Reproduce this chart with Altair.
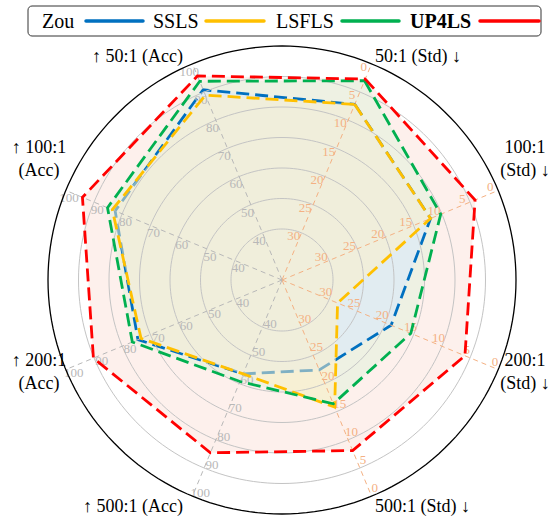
import pandas as pd
import altair as alt

# ---- data -------------------------------------------------------------
axis_names = ["50:1 (Std)", "100:1 (Std)", "200:1 (Std)", "500:1 (Std)",
              "500:1 (Acc)", "200:1 (Acc)", "100:1 (Acc)", "50:1 (Acc)"]
axis_kind = ["Std", "Std", "Std", "Std", "Acc", "Acc", "Acc", "Acc"]
axis_titles = ["50:1 (Std) ↓", "100:1\n(Std) ↓", "200:1\n(Std) ↓", "500:1 (Std) ↓",
               "↑ 500:1 (Acc)", "↑ 200:1\n(Acc)", "↑ 100:1\n(Acc)", "↑ 50:1 (Acc)"]

methods = ["Zou", "SSLS", "LSFLS", "UP4LS"]
zou = [7.2, 12.0, 19.0, 22.4, 56.6, 74.4, 82.5, 90.8]
ssls = [7.2, 12.0, 28.5, 15.8, 56.6, 73.3, 83.5, 88.9]
lsfls = [3.0, 10.2, 15.5, 16.4, 59.3, 76.4, 85.2, 93.8]
up4ls = [2.7, 4.1, 5.9, 8.1, 84.6, 90.2, 94.1, 95.7]
series = dict(zip(methods, [zou, ssls, lsfls, up4ls]))

acc_ticks = ["40", "50", "60", "70", "80", "90", "100"]
std_ticks = ["30", "25", "20", "15", "10", "5", "0"]

line_color = {"Zou": "#0070C0", "SSLS": "#FFC000", "LSFLS": "#00B050", "UP4LS": "#FF0000"}
# pale tints used for the shaded areas, with their opacity
fill_color = {"Zou": ("#e1ecf1", 1.0), "SSLS": ("#fff0c6", 0.5),
              "LSFLS": ("#eef1e3", 1.0), "UP4LS": ("#fdf0ec", 1.0)}

# ---- polar geometry ---------------------------------------------------
HOLE = 51 / 183          # radius of the innermost ring, in units of the ring span
START, STEP = 22.5, 45   # angle of the first spoke and spacing, degrees clockwise from top
N_RINGS = 6

theta = f"({START} + {STEP} * datum.idx) * PI / 180"

xs = alt.Scale(domain=[-282 / 183, 270 / 183], nice=False, zero=False)
ys = alt.Scale(domain=[-238 / 183, 280 / 183], nice=False, zero=False)
X = alt.X("x:Q", scale=xs, axis=None)
Y = alt.Y("y:Q", scale=ys, axis=None)

SERIF = "Liberation Serif"

# ---- rings --------------------------------------------------------------
ring_rows = [{"ring": j, "deg": d} for j in range(N_RINGS + 1) for d in range(0, 361, 2)]
rings = pd.DataFrame(ring_rows)


def ring_layer(sel, color, width):
    return (
        alt.Chart(rings)
        .transform_filter(sel)
        .transform_calculate(
            rho=f"{HOLE} + datum.ring / {N_RINGS}",
            t="datum.deg * PI / 180",
        )
        .transform_calculate(x="datum.rho * sin(datum.t)", y="datum.rho * cos(datum.t)")
        .mark_line(stroke=color, strokeWidth=width)
        .encode(x=X, y=Y, order="deg:Q", detail="ring:N")
    )


inner_rings = ring_layer(f"datum.ring < {N_RINGS}", "#c4c4c4", 1)
outer_ring = ring_layer(f"datum.ring == {N_RINGS}", "#000000", 1.3)

# ---- spokes -------------------------------------------------------------
spoke_df = pd.DataFrame({"idx": range(8), "kind": axis_kind})
spokes = (
    alt.Chart(spoke_df)
    .transform_calculate(t=theta, r1=f"{HOLE} + 1")
    .transform_calculate(
        x="0", y="0",
        x2="datum.r1 * sin(datum.t)", y2="datum.r1 * cos(datum.t)",
    )
    .mark_rule(strokeDash=[5, 4], strokeWidth=1)
    .encode(
        x=X, y=Y, x2="x2:Q", y2="y2:Q",
        color=alt.Color("kind:N", scale=alt.Scale(domain=["Acc", "Std"], range=["#b8b8b8", "#f4b183"]), legend=None),
    )
)

# ---- tick labels along each spoke ----------------------------------------
tick_rows = []
for i, k in enumerate(axis_kind):
    labels = acc_ticks if k == "Acc" else std_ticks
    for j, lab in enumerate(labels):
        tick_rows.append({"idx": i, "kind": k, "ring": j, "label": lab})
tick_df = pd.DataFrame(tick_rows)
RSHIFT, PERP = 6 / 183, 6 / 183
ticks = (
    alt.Chart(tick_df)
    .transform_calculate(t=theta, rho=f"{HOLE} + datum.ring / {N_RINGS} - {RSHIFT}")
    .transform_calculate(
        x=f"datum.rho * sin(datum.t) - {PERP} * cos(datum.t)",
        y=f"datum.rho * cos(datum.t) + {PERP} * sin(datum.t)",
    )
    .mark_text(font=SERIF, fontSize=13, align="center", baseline="middle")
    .encode(
        x=X, y=Y, text="label:N",
        color=alt.Color("kind:N", scale=alt.Scale(domain=["Acc", "Std"], range=["#8a8a8a", "#c0652a"]), legend=None),
    )
)


# ---- method polygons ----------------------------------------------------
def method_base(name):
    df = pd.DataFrame({"idx": range(8), "kind": axis_kind, "value": series[name], "method": name})
    return (
        alt.Chart(df)
        .transform_calculate(
            t=theta,
            u="datum.kind == 'Acc' ? (datum.value - 40) / 60 : (30 - datum.value) / 30",
        )
        .transform_calculate(rho=f"{HOLE} + datum.u")
        .transform_calculate(x="datum.rho * sin(datum.t)", y="datum.rho * cos(datum.t)")
    )


def method_fill(name):
    c, a = fill_color[name]
    return method_base(name).mark_line(
        interpolate="linear-closed", strokeOpacity=0, fill=c, fillOpacity=a
    ).encode(x=X, y=Y, order="idx:Q")


def method_line(name):
    return method_base(name).mark_line(
        interpolate="linear-closed", stroke=line_color[name], strokeWidth=2.8, strokeDash=[13, 6]
    ).encode(x=X, y=Y, order="idx:Q")


# ---- spoke titles -------------------------------------------------------
title_df = pd.DataFrame({"idx": range(8), "title": axis_titles})
R_TITLE = 243 / 183
R_SIDE = 263 / 183


def title_layer(ids, radius, align, dx, dy):
    return (
        alt.Chart(title_df)
        .transform_filter(alt.FieldOneOfPredicate(field="idx", oneOf=ids))
        .transform_calculate(t=theta)
        .transform_calculate(x=f"{radius} * sin(datum.t)", y=f"{radius} * cos(datum.t)")
        .mark_text(font=SERIF, fontSize=18, align=align, baseline="middle",
                   lineBreak="\n", lineHeight=23, dx=dx, dy=dy, color="#000000")
        .encode(x=X, y=Y, text="title:N")
    )


titles = [
    title_layer([0, 3], R_TITLE, "left", 0, 2),
    title_layer([4, 7], R_TITLE, "right", -6, 2),
    title_layer([1, 6], R_SIDE, "center", 0, -31),
    title_layer([2, 5], R_SIDE, "center", 0, -20),
]

# ---- legend -------------------------------------------------------------
LEG_Y = 21
legend_box = alt.Chart().mark_rect(
    fill="white", stroke="#333333", strokeWidth=1, cornerRadius=4
).encode(x=alt.value(28), x2=alt.value(541), y=alt.value(6), y2=alt.value(36))

legend_items = []
text_x = [42, 153, 276, 410]
line_x = [(86, 143), (206, 264), (342, 399), (480, 539)]
for name, tx, (l0, l1) in zip(methods, text_x, line_x):
    legend_items.append(
        alt.Chart().mark_text(
            text=name, font=SERIF, fontSize=20, align="left", baseline="middle",
            fontWeight="bold" if name == "UP4LS" else "normal", color="#000000",
        ).encode(x=alt.value(tx), y=alt.value(LEG_Y + 1))
    )
    legend_items.append(
        alt.Chart().mark_rule(stroke=line_color[name], strokeWidth=3.5, strokeCap="round").encode(
            x=alt.value(l0), x2=alt.value(l1), y=alt.value(LEG_Y)
        )
    )

chart = alt.layer(
    method_fill("UP4LS"), method_fill("LSFLS"), method_fill("Zou"),
    method_line("Zou"), method_fill("SSLS"),
    inner_rings, spokes, ticks,
    method_line("SSLS"), method_line("LSFLS"), method_line("UP4LS"),
    outer_ring, *titles, legend_box, *legend_items
).properties(
    width=552, height=518, padding=0,
    autosize=alt.AutoSizeParams(type="none"),
).configure_view(stroke=None)

chart.save("out.html", embed_options={"renderer": "svg", "actions": False})
